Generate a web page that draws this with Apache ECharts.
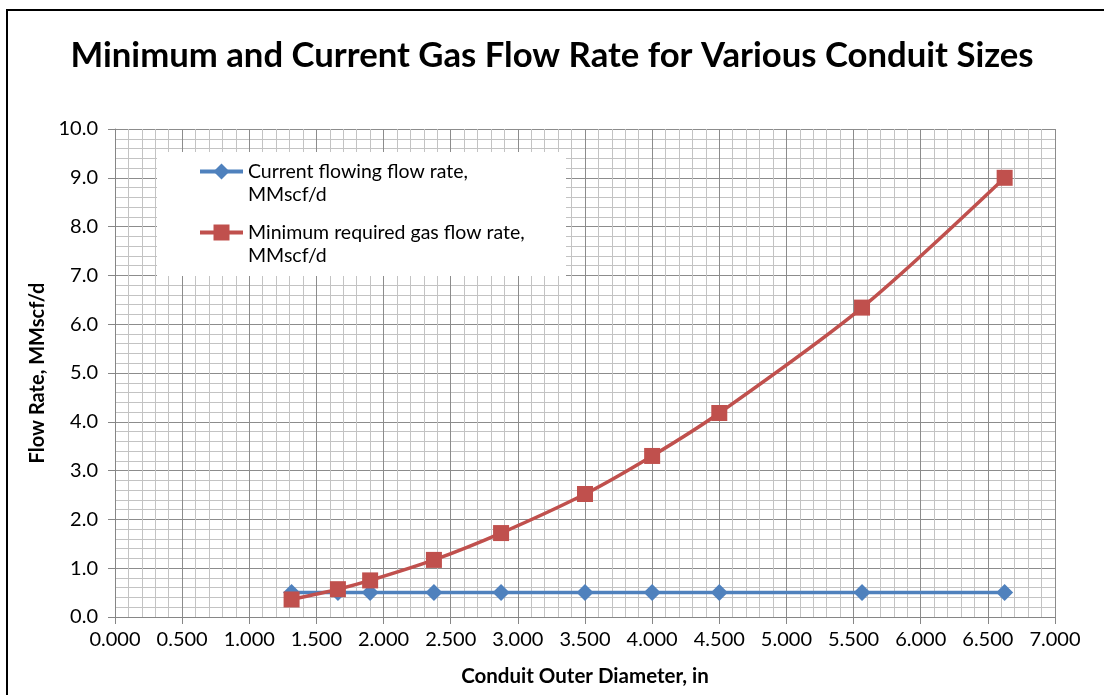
<!DOCTYPE html>
<html>
<head>
<meta charset="utf-8">
<title>Minimum and Current Gas Flow Rate for Various Conduit Sizes</title>
<script src="https://cdn.jsdelivr.net/npm/echarts@6/dist/echarts.min.js"></script>
<style>
  html, body { margin: 0; padding: 0; background: #fff; }
  #chart { width: 1104px; height: 695px; }
</style>
</head>
<body>
<div id="chart"></div>
<script>
// Conduit outer diameters (in) and gas rates (MMscf/d)
const conduitOD = [1.315, 1.660, 1.900, 2.375, 2.875, 3.500, 4.000, 4.500, 5.563, 6.625];
const currentRate = [0.5, 0.5, 0.5, 0.5, 0.5, 0.5, 0.5, 0.5, 0.5, 0.5];
const minimumRate = [0.36, 0.57, 0.75, 1.17, 1.72, 2.52, 3.30, 4.18, 6.34, 9.0];
const seriesNames = ['Current flowing flow rate, MMscf/d', 'Minimum required gas flow rate, MMscf/d'];
const xRange = [0, 7, 0.5];
const yRange = [0, 10, 1];

const FONT = 'Lato';
const pair = (xs, ys) => xs.map((x, i) => [x, ys[i]]);

const chart = echarts.init(document.getElementById('chart'), null, { renderer: 'canvas' });

chart.setOption({
  backgroundColor: '#ffffff',
  animation: false,
  title: {
    text: 'Minimum and Current Gas Flow Rate for Various Conduit Sizes',
    left: 'center',
    top: 38,
    padding: 0,
    textStyle: { fontFamily: FONT, fontWeight: 'bold', fontSize: 34.7, color: '#000' }
  },
  graphic: [
    {
      type: 'rect',
      shape: { x: 7, y: 10, width: 1200, height: 800 },
      style: { fill: 'none', stroke: '#000', lineWidth: 2 },
      silent: true, z: 100
    },
    {
      type: 'rect',
      shape: { x: 157, y: 152, width: 409, height: 124 },
      style: { fill: '#fff' },
      silent: true, z: 5
    }
  ],
  grid: { left: 115, right: 49, top: 129, bottom: 78, containLabel: false },
  legend: {
    orient: 'vertical',
    left: 198,
    top: 137,
    padding: 0,
    itemWidth: 43,
    itemHeight: 20,
    itemGap: -8,
    z: 10,
    data: seriesNames,
    lineStyle: { width: 4 },
    // blank first line keeps the marker level with the first text line
    formatter: (name) => '\n' + name.replace(', ', ',\n'),
    textStyle: { fontFamily: FONT, fontSize: 19.5, color: '#000', lineHeight: 23 }
  },
  xAxis: {
    type: 'value',
    min: xRange[0], max: xRange[1], interval: xRange[2],
    name: 'Conduit Outer Diameter, in',
    nameLocation: 'middle',
    nameGap: 49,
    nameTextStyle: { fontFamily: FONT, fontWeight: 'bold', fontSize: 20.5, color: '#000' },
    axisLine: { show: true, lineStyle: { color: '#868686', width: 1 } },
    axisTick: { show: true, length: 7, lineStyle: { color: '#868686' } },
    axisLabel: { margin: 13, fontFamily: FONT, fontSize: 20, color: '#000', formatter: (v) => v.toFixed(3) },
    splitLine: { show: true, lineStyle: { color: '#8c8c8c', width: 1 } },
    minorTick: { show: false, splitNumber: 5 },
    minorSplitLine: { show: true, lineStyle: { color: '#c3c3c3', width: 1 } }
  },
  yAxis: {
    type: 'value',
    min: yRange[0], max: yRange[1], interval: yRange[2],
    name: 'Flow Rate, MMscf/d',
    nameLocation: 'middle',
    nameGap: 62,
    nameTextStyle: { fontFamily: FONT, fontWeight: 'bold', fontSize: 20, color: '#000' },
    axisLine: { show: true, lineStyle: { color: '#868686', width: 1 } },
    axisTick: { show: true, length: 7, lineStyle: { color: '#868686' } },
    axisLabel: { margin: 17, fontFamily: FONT, fontSize: 20, color: '#000', formatter: (v) => v.toFixed(1) },
    splitLine: { show: true, lineStyle: { color: '#8c8c8c', width: 1 } },
    minorTick: { show: false, splitNumber: 5 },
    minorSplitLine: { show: true, lineStyle: { color: '#c3c3c3', width: 1 } }
  },
  series: [
    {
      name: seriesNames[0],
      type: 'line',
      data: pair(conduitOD, currentRate),
      smooth: 0.3,
      symbol: 'diamond',
      symbolSize: 17,
      itemStyle: { color: '#4f81bd' },
      lineStyle: { color: '#4f81bd', width: 3.5 },
      z: 2
    },
    {
      name: seriesNames[1],
      type: 'line',
      data: pair(conduitOD, minimumRate),
      smooth: 0.3,
      symbol: 'rect',
      symbolSize: 16,
      itemStyle: { color: '#c0504d' },
      lineStyle: { color: '#c0504d', width: 3.5 },
      z: 3
    }
  ]
});
</script>
</body>
</html>
